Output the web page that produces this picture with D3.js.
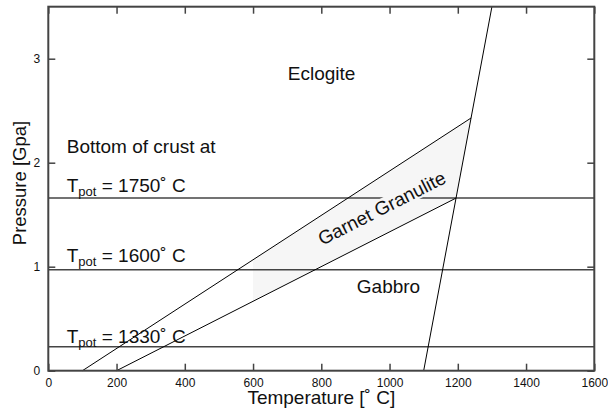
<!DOCTYPE html>
<html>
<head>
<meta charset="utf-8">
<script src="https://cdn.jsdelivr.net/npm/d3@7"></script>
<style>
  html, body { margin: 0; padding: 0; background: #fff; }
  svg text { font-family: "Liberation Sans", Arial, Helvetica, sans-serif; fill: #111; }
</style>
</head>
<body>
<svg id="chart" width="608" height="411"></svg>
<script>
// Axis ranges and ticks
const tempDomain = [0, 1600];
const pressureDomain = [0, 3.5];
const tempTicks = [0, 200, 400, 600, 800, 1000, 1200, 1400, 1600];
const pressureTicks = [0, 1, 2, 3];

// Pressure at the bottom of the crust for each mantle potential temperature
const tpotValues = [1750, 1600, 1330];
const crustBottomPressure = [1.66, 0.97, 0.23];

// Phase boundaries as [temperature, pressure] pairs
const gabbroGranuliteBoundary = [[200, 0], [1195, 1.66]];
const granuliteEclogiteBoundary = [[100, 0], [1239, 2.43]];
const solidusBoundary = [[1100, 0], [1300, 3.5]];

// Shaded garnet granulite field
const granuliteField = [[600, 1.067], [1239, 2.43], [1195, 1.66], [600, 0.667]];

// Field names and their anchor points (temperature, pressure)
const fieldNames = ["Eclogite", "Gabbro", "Garnet Granulite"];
const fieldAnchors = [[801, 2.795], [904, 0.744], [977, 1.564]];

const margin = { left: 48.3, right: 608 - 594.3, top: 6.7, bottom: 411 - 370.7 };
const W = 608, H = 411;
const svg = d3.select("#chart");

const x = d3.scaleLinear().domain(tempDomain).range([margin.left, W - margin.right]);
const y = d3.scaleLinear().domain(pressureDomain).range([H - margin.bottom, margin.top]);

const line = d3.line().x(d => x(d[0])).y(d => y(d[1]));

const axisColor = "#444";
const tickLen = 7;

// Shaded field
svg.append("path")
  .attr("d", line(granuliteField) + "Z")
  .attr("fill", "#f6f6f6")
  .attr("stroke", "none");

// Horizontal lines at the bottom of the crust
svg.append("g").selectAll("line")
  .data(crustBottomPressure)
  .join("line")
  .attr("x1", x(tempDomain[0]))
  .attr("x2", x(tempDomain[1]))
  .attr("y1", d => y(d))
  .attr("y2", d => y(d))
  .attr("stroke", "#444")
  .attr("stroke-width", 1.4);

// Rotated label for the garnet granulite field, with a backing box
const gg = fieldAnchors[2];
const ang = -27;
const ggG = svg.append("g")
  .attr("transform", `translate(${x(gg[0])},${y(gg[1])}) rotate(${ang})`);
ggG.append("rect")
  .attr("x", -70).attr("y", -9).attr("width", 140).attr("height", 18)
  .attr("fill", "#f6f6f6");

// Phase boundary lines
[gabbroGranuliteBoundary, granuliteEclogiteBoundary, solidusBoundary].forEach(seg => {
  svg.append("path")
    .attr("d", line(seg))
    .attr("fill", "none")
    .attr("stroke", "#000")
    .attr("stroke-width", 1);
});

ggG.append("text")
  .attr("text-anchor", "middle")
  .attr("dy", "0.35em")
  .attr("font-size", 19)
  .text(fieldNames[2]);

// Other field names
svg.append("text")
  .attr("x", x(fieldAnchors[0][0])).attr("y", y(fieldAnchors[0][1]))
  .attr("text-anchor", "middle").attr("font-size", 19)
  .text(fieldNames[0]);
svg.append("text")
  .attr("x", x(fieldAnchors[1][0])).attr("y", y(fieldAnchors[1][1]))
  .attr("font-size", 19)
  .text(fieldNames[1]);

// Crust-bottom annotations
const annoT = 54;
svg.append("text")
  .attr("x", x(annoT)).attr("y", y(2.09))
  .attr("font-size", 19)
  .text("Bottom of crust at");
const labelP = [1.72, 1.05, 0.27];
tpotValues.forEach((t, i) => {
  const tx = svg.append("text")
    .attr("x", x(annoT)).attr("y", y(labelP[i]))
    .attr("font-size", 19);
  tx.append("tspan").text("T");
  tx.append("tspan").attr("font-size", 13).attr("dy", 4).text("pot");
  tx.append("tspan").attr("dy", -4).text(` = ${t}\u02DA C`);
});

// Frame
const x0 = x(tempDomain[0]), x1 = x(tempDomain[1]);
const y0 = y(pressureDomain[0]), y1 = y(pressureDomain[1]);
svg.append("rect")
  .attr("x", x0).attr("y", y1).attr("width", x1 - x0).attr("height", y0 - y1)
  .attr("fill", "none").attr("stroke", axisColor).attr("stroke-width", 2);

const fmt = d3.format("d");

// Bottom axis with inward ticks and labels
const xAxis = d3.axisBottom(x).tickValues(tempTicks).tickSizeInner(-tickLen).tickSizeOuter(0)
  .tickPadding(tickLen + 1).tickFormat(fmt);
const gx = svg.append("g").attr("transform", `translate(0,${y0})`).call(xAxis);
gx.select(".domain").remove();
gx.selectAll("line").attr("stroke", axisColor).attr("stroke-width", 1.5);
gx.selectAll("text").attr("font-size", 12).attr("fill", "#111")
  .attr("font-family", '"Liberation Sans", Arial, sans-serif');

// Top axis ticks (mirror)
const xTop = d3.axisTop(x).tickValues(tempTicks).tickSizeInner(-tickLen).tickSizeOuter(0).tickFormat("");
const gxt = svg.append("g").attr("transform", `translate(0,${y1})`).call(xTop);
gxt.select(".domain").remove();
gxt.selectAll("line").attr("stroke", axisColor).attr("stroke-width", 1.5);

// Left axis
const yAxis = d3.axisLeft(y).tickValues(pressureTicks).tickSizeInner(-tickLen).tickSizeOuter(0)
  .tickPadding(tickLen + 1).tickFormat(fmt);
const gy = svg.append("g").attr("transform", `translate(${x0},0)`).call(yAxis);
gy.select(".domain").remove();
gy.selectAll("line").attr("stroke", axisColor).attr("stroke-width", 1.5);
gy.selectAll("text").attr("font-size", 12).attr("fill", "#111")
  .attr("font-family", '"Liberation Sans", Arial, sans-serif');

// Right axis ticks (mirror)
const yRight = d3.axisRight(y).tickValues(pressureTicks).tickSizeInner(-tickLen).tickSizeOuter(0).tickFormat("");
const gyr = svg.append("g").attr("transform", `translate(${x1},0)`).call(yRight);
gyr.select(".domain").remove();
gyr.selectAll("line").attr("stroke", axisColor).attr("stroke-width", 1.5);

// Axis titles
svg.append("text")
  .attr("x", (x0 + x1) / 2).attr("y", 404)
  .attr("text-anchor", "middle").attr("font-size", 19)
  .text("Temperature [\u02DA C]");
svg.append("text")
  .attr("transform", `translate(26,${183}) rotate(-90)`)
  .attr("text-anchor", "middle").attr("font-size", 18.5)
  .text("Pressure [Gpa]");
</script>
</body>
</html>
